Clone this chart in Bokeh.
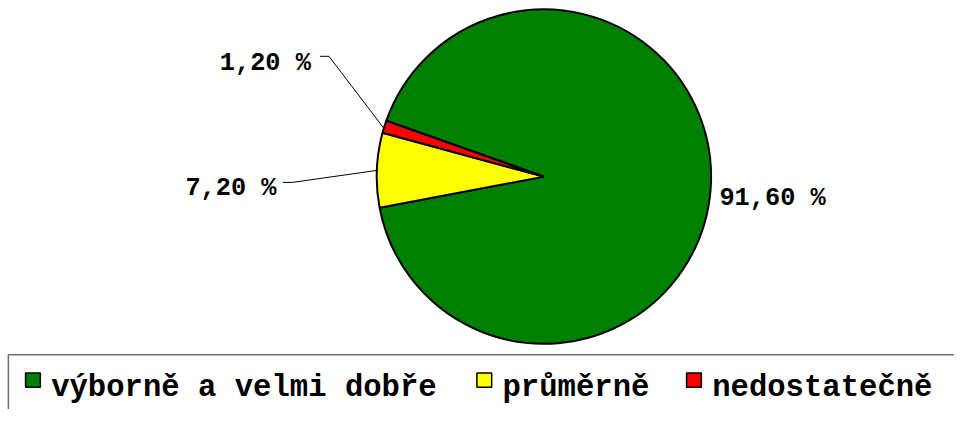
import math
from bokeh.plotting import figure
from bokeh.models import Range1d
from bokeh.core.properties import value
from bokeh.embed import file_html
from bokeh.resources import INLINE

# ---- data ----
categories = ["výborně a velmi dobře", "průměrně", "nedostatečně"]
percentages = [91.6, 7.2, 1.2]
colors = ["#008000", "#FFFF00", "#FF0000"]

W, H = 954, 409
REF_W, REF_H = 970, 425
SCALE = (W / REF_W + H / REF_H) / 2

def Y(yp):
    return REF_H - yp

p = figure(width=W, height=H, output_backend="svg", toolbar_location=None,
           x_range=Range1d(0, REF_W), y_range=Range1d(0, REF_H),
           min_border=0, outline_line_color=None)
p.axis.visible = False
p.grid.visible = False
p.background_fill_color = "white"

FONT = value("Liberation Mono")
LABEL_SIZE = f"{26 * SCALE:.1f}px"
LEGEND_SIZE = f"{31.5 * SCALE:.1f}px"

# ---- pie ----
cx, cy, r = 552.5, Y(183), 170
start_deg = 160.5
total = sum(percentages)
starts, ends, mids = [], [], []
a = start_deg
for v in percentages:
    span = v / total * 360.0
    starts.append(math.radians(a))
    ends.append(math.radians(a - span))
    mids.append(math.radians(a - span / 2))
    a -= span

p.wedge(x=cx, y=cy, radius=r, start_angle=starts, end_angle=ends,
        direction="clock", fill_color=colors, line_color="black", line_width=2)

labels = [f"{v:.2f}".replace(".", ",") + " %" for v in percentages]

# label placement (layout)
label_pos = [(731, Y(206)), (188, Y(195)), (223, Y(65))]
bends = [None, ((287, 189), (297, 189)), ((325, 58), (334, 58))]

for i, lab in enumerate(labels):
    lx, ly = label_pos[i]
    p.text(x=[lx], y=[ly], text=[lab], text_font=FONT, text_font_style="bold",
           text_font_size=LABEL_SIZE, text_color="black", text_baseline="alphabetic",
           text_align="left")
    if bends[i] is not None:
        ex = cx + r * math.cos(mids[i])
        ey = cy + r * math.sin(mids[i]) * (REF_W / W) / (REF_H / H)
        (x0, y0), (x1, y1) = bends[i]
        p.line(x=[x0, x1, ex], y=[Y(y0), Y(y1), ey], line_color="black", line_width=1)

# ---- legend ----
LEG_TOP = 368
p.quad(left=8, right=1000, top=Y(LEG_TOP), bottom=-20, fill_color=None,
       line_color="#707070", line_width=1.5)

char_w = 18.9
sq = 15
x = 25.5
for cat, col in zip(categories, colors):
    p.quad(left=x, right=x + sq, top=Y(LEG_TOP + 19), bottom=Y(LEG_TOP + 19 + sq),
           fill_color=col, line_color="black", line_width=1.5)
    tx = x + sq + 11
    p.text(x=[tx], y=[Y(LEG_TOP + 35)], text=[cat], text_font=FONT, text_font_style="bold",
           text_font_size=LEGEND_SIZE, text_color="black", text_baseline="alphabetic",
           text_align="left")
    x = tx + len(cat) * char_w + 36

open("out.html", "w").write(file_html(p, INLINE))
